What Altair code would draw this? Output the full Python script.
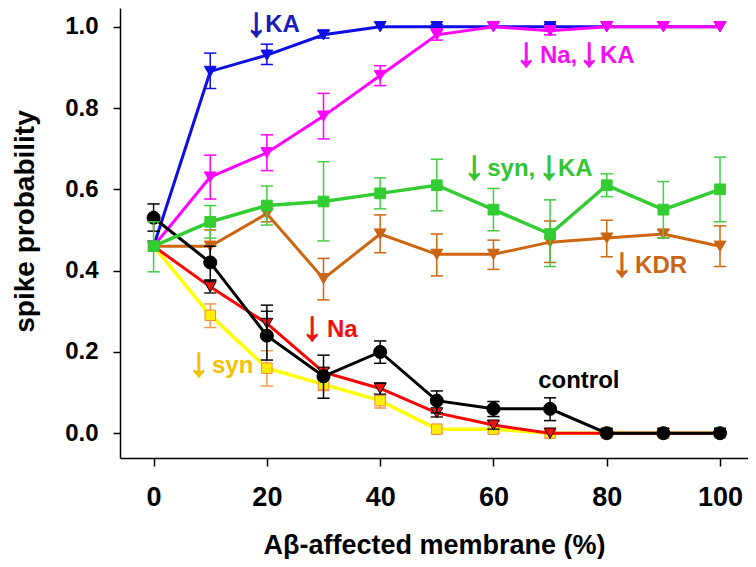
import altair as alt
import pandas as pd

# ---------------- data ----------------
x_vals = [0, 10, 20, 30, 40, 50, 60, 70, 80, 90, 100]

ka_y  = [0.46, 0.89, 0.93, 0.98, 1.00, 1.00, 1.00, 1.00, 1.00, 1.00, 1.00]
ka_hi = [None, 0.935, 0.957, 0.99, None, 1.005, None, 1.006, None, None, None]
ka_lo = [None, 0.848, 0.907, 0.972, None, 0.995, None, 0.993, None, None, None]

nka_y  = [0.46, 0.63, 0.69, 0.78, 0.88, 0.98, 1.00, 0.99, 1.00, 1.00, 1.00]
nka_hi = [None, 0.684, 0.734, 0.836, 0.904, 0.995, None, 1.00, None, None, None]
nka_lo = [None, 0.576, 0.646, 0.724, 0.855, 0.967, None, 0.98, None, None, None]

sk_y  = [0.46, 0.52, 0.56, 0.57, 0.59, 0.61, 0.55, 0.49, 0.61, 0.55, 0.60]
sk_hi = [0.52, 0.56, 0.608, 0.668, 0.628, 0.674, 0.602, 0.574, 0.638, 0.619, 0.679]
sk_lo = [0.397, 0.48, 0.512, 0.473, 0.552, 0.547, 0.498, 0.41, 0.582, 0.48, 0.52]

kdr_y  = [0.46, 0.46, 0.54, 0.38, 0.49, 0.44, 0.44, 0.47, 0.48, 0.49, 0.46]
kdr_hi = [None, 0.50, 0.56, 0.43, 0.537, 0.49, 0.475, 0.522, 0.524, 0.50, 0.51]
kdr_lo = [None, 0.42, 0.52, 0.328, 0.444, 0.387, 0.403, 0.42, 0.434, 0.48, 0.41]

na_y  = [0.46, 0.36, 0.27, 0.15, 0.11, 0.05, 0.02, 0.00, 0.00, 0.00, 0.00]
na_hi = [None, 0.375, 0.30, 0.16, 0.124, 0.06, 0.03, None, None, None, None]
na_lo = [None, 0.345, 0.235, 0.14, 0.096, 0.04, 0.01, None, None, None, None]

syn_y  = [0.46, 0.29, 0.16, 0.12, 0.08, 0.01, 0.01, 0.00, 0.00, 0.00, 0.00]
syn_hi = [None, 0.318, 0.203, 0.135, 0.092, 0.02, 0.02, None, None, None, None]
syn_lo = [None, 0.26, 0.116, 0.105, 0.062, 0.00, 0.00, None, None, None, None]

ctl_y  = [0.53, 0.42, 0.24, 0.14, 0.20, 0.08, 0.06, 0.06, 0.00, 0.00, 0.00]
ctl_hi = [0.564, 0.46, 0.315, 0.192, 0.227, 0.104, 0.078, 0.087, None, None, None]
ctl_lo = [0.497, 0.377, 0.18, 0.086, 0.172, 0.05, 0.041, 0.031, None, None, None]

x_ticks = [0, 20, 40, 60, 80, 100]
y_ticks = [0.0, 0.2, 0.4, 0.6, 0.8, 1.0]

# annotation texts (data coordinates)
ann_text = ["↓", "KA", "↓", "Na,", "↓", "KA", "↓", "syn,", "↓", "KA",
            "↓", "KDR", "control", "↓", "Na", "↓", "syn"]
ann_x = [16.3, 19.7, 64.0, 68.2, 75.1, 78.8, 54.8, 58.9, 68.0, 71.4,
         80.9, 85.0, 67.9, 26.2, 30.6, 6.2, 10.3]
ann_y = [0.984, 0.988, 0.911, 0.911, 0.911, 0.911, 0.633, 0.633, 0.633, 0.633,
         0.394, 0.394, 0.111, 0.237, 0.237, 0.148, 0.148]
ann_c = ["#1a1ab4", "#1a1ab4", "#f010f0", "#f010f0", "#f010f0", "#f010f0",
         "#33c433", "#33c433", "#33c433", "#33c433",
         "#c8661a", "#c8661a", "#000000", "#f01010", "#f01010", "#f5c000", "#f5c000"]

# ---------------- styles ----------------
series = [
    # name, y, hi, lo, line color, err color, shape, fill, stroke, size, line width
    ("syn", syn_y, syn_hi, syn_lo, "#ffff00", "#f09a50", "square", "#ffee00", "#f08a40", 110, 3.5),
    ("na", na_y, na_hi, na_lo, "#ff0000", "#222222", "triangle-down", "#ee1111", "#000000", 140, 3),
    ("kdr", kdr_y, kdr_hi, kdr_lo, "#cc6611", "#cc6611", "triangle-down", "#c86414", "#c86414", 140, 3),
    ("ka", ka_y, ka_hi, ka_lo, "#0d0de6", "#0d0de6", "triangle-down", "#0d0de6", "#0d0de6", 140, 3),
    ("nka", nka_y, nka_hi, nka_lo, "#ff00ff", "#ff00ff", "triangle-down", "#ff00ff", "#ff00ff", 140, 3),
    ("ctl", ctl_y, ctl_hi, ctl_lo, "#000000", "#000000", "circle", "#000000", "#000000", 170, 3),
    ("sk", sk_y, sk_hi, sk_lo, "#33cc33", "#44cc44", "square", "#33cc33", "#33cc33", 115, 3.5),
]

XMIN, XMAX = -5.93, 104.94
YMIN, YMAX = -0.061, 1.046

FONT = "Liberation Sans"

x_axis = alt.Axis(values=x_ticks, format="d", grid=False,
                  labelFont=FONT, labelFontSize=27, labelFontWeight="bold", labelColor="black",
                  tickSize=8, tickWidth=1.5, tickColor="black",
                  domainColor="black", domainWidth=1.5, labelPadding=18,
                  titleFont=FONT, titleFontSize=27, titleFontWeight="bold", titleColor="black",
                  titleY=95, titleBaseline="alphabetic")
y_axis = alt.Axis(values=y_ticks, format=".1f", grid=False,
                  labelFont=FONT, labelFontSize=24, labelFontWeight="bold", labelColor="black",
                  tickSize=7, tickWidth=1.5, tickColor="black",
                  domainColor="black", domainWidth=1.5, labelPadding=15,
                  titleFont=FONT, titleFontSize=28, titleFontWeight="bold", titleColor="black",
                  titleX=-87, titleY=213, titleAngle=270, titleBaseline="alphabetic",
                  titleAlign="center")

x_scale = alt.Scale(domain=[XMIN, XMAX], nice=False, zero=False)
y_scale = alt.Scale(domain=[YMIN, YMAX], nice=False, zero=False)

def X(field="x"):
    return alt.X(f"{field}:Q", scale=x_scale, axis=x_axis, title="Aβ-affected membrane (%)")

def Y(field="y"):
    return alt.Y(f"{field}:Q", scale=y_scale, axis=y_axis, title="spike probability")

layers = []
for (name, ys, his, los, lc, ec, shape, fill, stroke, size, lw) in series:
    df = pd.DataFrame({"x": x_vals, "y": ys})
    err = pd.DataFrame({"x": x_vals, "hi": his, "lo": los}).dropna()
    line = alt.Chart(df).mark_line(color=lc, strokeWidth=lw).encode(x=X(), y=Y())
    layers.append(line)
    if len(err):
        rule = alt.Chart(err).mark_rule(color=ec, strokeWidth=1.5).encode(
            x=X(), y=Y("lo"), y2=alt.Y2("hi"))
        cap_hi = alt.Chart(err).mark_point(shape="stroke", filled=False, color=ec,
                                           strokeWidth=1.5, size=150, opacity=1).encode(x=X(), y=Y("hi"))
        cap_lo = alt.Chart(err).mark_point(shape="stroke", filled=False, color=ec,
                                           strokeWidth=1.5, size=150, opacity=1).encode(x=X(), y=Y("lo"))
        layers += [rule, cap_hi, cap_lo]
    pts = alt.Chart(df).mark_point(shape=shape, filled=True, fill=fill, stroke=stroke,
                                   strokeWidth=1, size=size, opacity=1).encode(x=X(), y=Y())
    layers.append(pts)

ann = pd.DataFrame({"x": ann_x, "y": ann_y, "t": ann_text, "c": ann_c})
words = alt.Chart(ann).transform_filter("datum.t != '↓'").mark_text(
    font=FONT, fontSize=24, fontWeight="bold", align="left", baseline="alphabetic"
).encode(x=X(), y=Y(), text="t:N", color=alt.Color("c:N", scale=None))
arrows = alt.Chart(ann).transform_filter("datum.t == '↓'").mark_text(
    font=FONT, fontSize=41, fontWeight="bold", align="left", baseline="alphabetic",
    dy=3, strokeWidth=1.2
).encode(x=X(), y=Y(), text="t:N",
         color=alt.Color("c:N", scale=None), stroke=alt.Color("c:N", scale=None))
layers += [words, arrows]

chart = alt.layer(*layers).properties(
    width=628, height=450,
    padding={"left": 112, "top": 0, "right": 0, "bottom": 101},
    autosize=alt.AutoSizeParams(type="none"),
).configure_view(stroke=None)

chart.save("out.html", embed_options={"renderer": "svg", "actions": False})
